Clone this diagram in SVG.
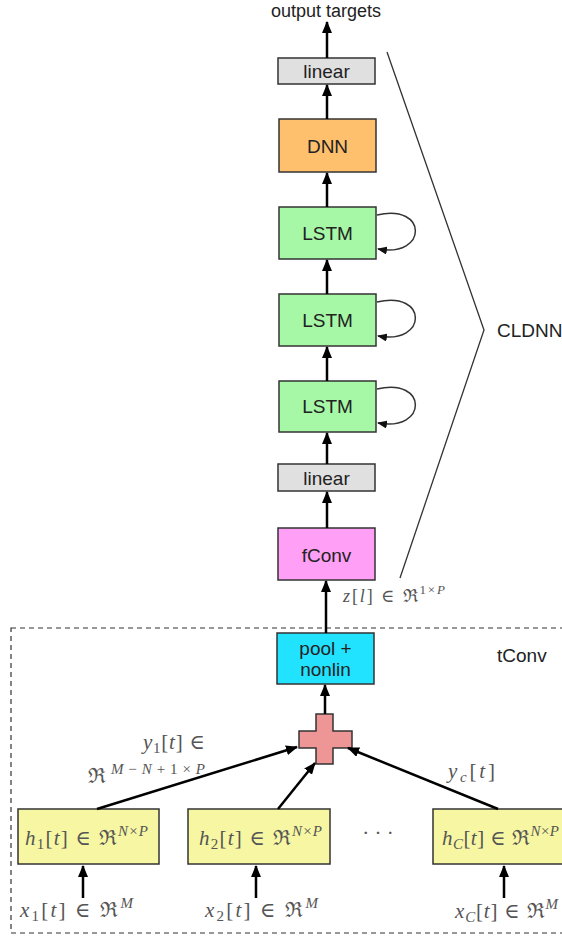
<svg xmlns="http://www.w3.org/2000/svg" width="562" height="936" viewBox="0 0 562 936">
  <defs>
    <marker id="arrow" viewBox="0 0 12 10" refX="11" refY="5" markerWidth="12" markerHeight="10" orient="auto" markerUnits="userSpaceOnUse">
      <path d="M0,0 L12,5 L0,10 z" fill="#000"/>
    </marker>
    <marker id="arrow-small" viewBox="0 0 10 8" refX="9" refY="4" markerWidth="10" markerHeight="8" orient="auto" markerUnits="userSpaceOnUse">
      <path d="M0,0 L10,4 L0,8 z" fill="#111"/>
    </marker>
    <style>
      .box { stroke: #333; stroke-width: 1.5; }
      .lbl { font-family: "Liberation Sans", Arial, sans-serif; font-size: 19px; fill: #222; text-anchor: middle; }
      .side { font-family: "Liberation Sans", Arial, sans-serif; font-size: 19px; fill: #222; }
      .math { font-family: "Liberation Serif", "DejaVu Serif", serif; font-size: 21px; fill: #555; font-style: italic; }
      .up { font-style: normal; }
      .sup { font-size: 15px; }
      .edge { stroke: #000; stroke-width: 2.5; fill: none; marker-end: url(#arrow); }
      .loop { stroke: #333; stroke-width: 1.5; fill: none; marker-end: url(#arrow-small); }
      .bracket { stroke: #333; stroke-width: 1.3; fill: none; }
    </style>
  </defs>

  <!-- tConv region -->
  <g id="tconv-region">
    <rect x="11" y="628" width="570" height="305" fill="none" stroke="#333" stroke-width="1.2" stroke-dasharray="5,4"/>
    <text class="side" x="497" y="662">tConv</text>
  </g>

  <!-- CLDNN bracket -->
  <g id="cldnn-bracket">
    <polyline class="bracket" points="387,52 484,330 400,578"/>
    <text class="side" x="497" y="337">CLDNN</text>
  </g>

  <text class="lbl" x="326" y="17" style="font-size:18px">output targets</text>

  <g id="linear-top">
    <rect class="box" x="278" y="58" width="97" height="26" fill="#e0e0e0"/>
    <text class="lbl" x="326.5" y="78">linear</text>
  </g>
  <g id="dnn">
    <rect class="box" x="279" y="119" width="97" height="53" fill="#ffc06e"/>
    <text class="lbl" x="327.5" y="153">DNN</text>
  </g>
  <g id="lstm1">
    <rect class="box" x="279" y="207" width="97" height="52" fill="#a6f7a6"/>
    <text class="lbl" x="327.5" y="240">LSTM</text>
  </g>
  <g id="lstm2">
    <rect class="box" x="279" y="294" width="97" height="52" fill="#a6f7a6"/>
    <text class="lbl" x="327.5" y="327">LSTM</text>
  </g>
  <g id="lstm3">
    <rect class="box" x="279" y="381" width="97" height="51" fill="#a6f7a6"/>
    <text class="lbl" x="327.5" y="413">LSTM</text>
  </g>
  <g id="linear-bottom">
    <rect class="box" x="278" y="464" width="97" height="27" fill="#e0e0e0"/>
    <text class="lbl" x="326.5" y="485">linear</text>
  </g>
  <g id="fconv">
    <rect class="box" x="278" y="528" width="97" height="52" fill="#ff9ff5"/>
    <text class="lbl" x="326.5" y="562">fConv</text>
  </g>
  <g id="pool-nonlin">
    <rect class="box" x="277" y="633" width="97" height="51" fill="#22e3ff"/>
    <text class="lbl" x="325.5" y="655">pool +</text>
    <text class="lbl" x="325.5" y="676">nonlin</text>
  </g>
  <g id="sum">
    <path class="box" d="M316,714 H333 V731 H352 V748 H333 V764 H316 V748 H299 V731 H316 Z" fill="#ee9696"/>
  </g>
  <g id="h1">
    <rect class="box" x="18" y="809" width="141" height="55" fill="#f7f7a3"/>
    <text class="math" x="25" y="845" textLength="123" lengthAdjust="spacing">h<tspan class="up sup" dy="4">1</tspan><tspan class="up" dy="-4">[</tspan>t<tspan class="up">] ∈ ℜ</tspan><tspan class="sup" dy="-9">N</tspan><tspan class="up sup">×</tspan><tspan class="sup">P</tspan></text>
  </g>
  <g id="h2">
    <rect class="box" x="188" y="809" width="142" height="55" fill="#f7f7a3"/>
    <text class="math" x="199" y="845" textLength="123" lengthAdjust="spacing">h<tspan class="up sup" dy="4">2</tspan><tspan class="up" dy="-4">[</tspan>t<tspan class="up">] ∈ ℜ</tspan><tspan class="sup" dy="-9">N</tspan><tspan class="up sup">×</tspan><tspan class="sup">P</tspan></text>
  </g>
  <g id="hC">
    <rect class="box" x="433" y="809" width="140" height="55" fill="#f7f7a3"/>
    <text class="math" x="442" y="845" textLength="117" lengthAdjust="spacing">h<tspan class="sup" dy="4">C</tspan><tspan class="up" dy="-4">[</tspan>t<tspan class="up">] ∈ ℜ</tspan><tspan class="sup" dy="-9">N</tspan><tspan class="up sup">×</tspan><tspan class="sup">P</tspan></text>
  </g>
  <text class="math up" x="378" y="840" text-anchor="middle" style="font-style:normal">· · ·</text>

  <!-- math annotations -->
  <text class="math" x="343" y="602" style="font-size:18px" textLength="102" lengthAdjust="spacing">z<tspan class="up">[</tspan>l<tspan class="up">]  ∈ ℜ</tspan><tspan class="up" style="font-size:13px" dy="-8">1×</tspan><tspan style="font-size:13px">P</tspan></text>
  <text class="math" x="143" y="749" textLength="62" lengthAdjust="spacing">y<tspan class="up sup" dy="4">1</tspan><tspan class="up" dy="-4">[</tspan>t<tspan class="up">] ∈</tspan></text>
  <text class="math" x="88" y="783" textLength="117" lengthAdjust="spacing"><tspan class="up">ℜ</tspan><tspan class="sup" dy="-9">M</tspan><tspan class="up sup">−</tspan><tspan class="sup">N</tspan><tspan class="up sup">+1×</tspan><tspan class="sup">P</tspan></text>
  <text class="math" x="448" y="778" textLength="47" lengthAdjust="spacing">y<tspan class="sup" dy="4">c</tspan><tspan class="up" dy="-4">[</tspan>t<tspan class="up">]</tspan></text>
  <text class="math" x="20" y="917" textLength="113" lengthAdjust="spacing">x<tspan class="up sup" dy="4">1</tspan><tspan class="up" dy="-4">[</tspan>t<tspan class="up">] ∈ ℜ</tspan><tspan class="sup" dy="-9">M</tspan></text>
  <text class="math" x="205" y="917" textLength="113" lengthAdjust="spacing">x<tspan class="up sup" dy="4">2</tspan><tspan class="up" dy="-4">[</tspan>t<tspan class="up">] ∈ ℜ</tspan><tspan class="sup" dy="-9">M</tspan></text>
  <text class="math" x="455" y="918" textLength="103" lengthAdjust="spacing">x<tspan class="sup" dy="4">C</tspan><tspan class="up" dy="-4">[</tspan>t<tspan class="up">] ∈ ℜ</tspan><tspan class="sup" dy="-9">M</tspan></text>

  <!-- connectors -->
  <g id="connectors">
    <line class="edge" x1="327" y1="58" x2="327" y2="22"/>
    <line class="edge" x1="327" y1="119" x2="327" y2="85"/>
    <line class="edge" x1="327" y1="207" x2="327" y2="173"/>
    <line class="edge" x1="327" y1="294" x2="327" y2="260"/>
    <line class="edge" x1="327" y1="381" x2="327" y2="347"/>
    <line class="edge" x1="327" y1="464" x2="327" y2="433"/>
    <line class="edge" x1="327" y1="528" x2="327" y2="492"/>
    <line class="edge" x1="326" y1="633" x2="326" y2="581"/>
    <line class="edge" x1="325" y1="714" x2="325" y2="685"/>
    <line class="edge" x1="97" y1="809" x2="297" y2="747"/>
    <line class="edge" x1="278" y1="809" x2="315" y2="763"/>
    <line class="edge" x1="498" y1="809" x2="348" y2="748"/>
    <line class="edge" x1="83" y1="898" x2="83" y2="866"/>
    <line class="edge" x1="256" y1="898" x2="256" y2="866"/>
    <line class="edge" x1="504" y1="898" x2="504" y2="866"/>
    <path class="loop" d="M377,215 C428,203 428,258 378,249"/>
    <path class="loop" d="M377,302 C428,290 428,345 378,336"/>
    <path class="loop" d="M377,389 C428,377 428,432 378,423"/>
  </g>
</svg>
